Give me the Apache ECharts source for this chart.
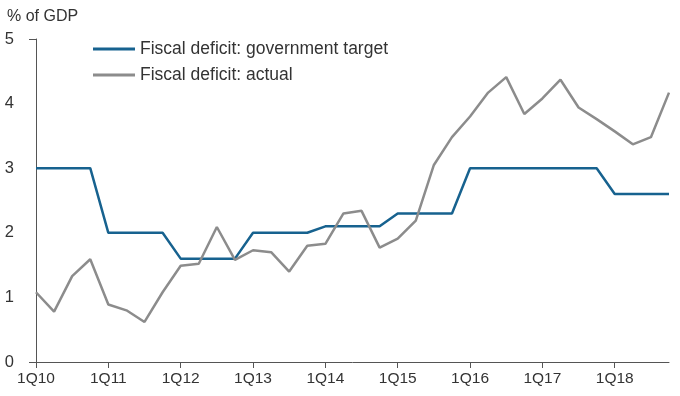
<!DOCTYPE html>
<html>
<head>
<meta charset="utf-8">
<style>
	html, body { margin: 0; padding: 0; background: #fff; }
	#chart { width: 680px; height: 396px; }
</style>
<script src="https://cdn.jsdelivr.net/npm/echarts@6/dist/echarts.min.js"></script>
</head>
<body>
<div id="chart"></div>
<script>
// quarters 1Q10 .. 4Q18
var quarters = [];
for (var yr = 10; yr <= 18; yr++) {
	for (var q = 1; q <= 4; q++) {
		quarters.push(q + 'Q' + yr);
	}
}

var targetDeficit = [
	3.0, 3.0, 3.0, 3.0,
	2.0, 2.0, 2.0, 2.0,
	1.6, 1.6, 1.6, 1.6,
	2.0, 2.0, 2.0, 2.0,
	2.1, 2.1, 2.1, 2.1,
	2.3, 2.3, 2.3, 2.3,
	3.0, 3.0, 3.0, 3.0,
	3.0, 3.0, 3.0, 3.0,
	2.6, 2.6, 2.6, 2.6
];

var actualDeficit = [
	1.08, 0.78, 1.33, 1.59,
	0.89, 0.80, 0.62, 1.08,
	1.49, 1.52, 2.09, 1.58,
	1.73, 1.70, 1.40, 1.80,
	1.83, 2.30, 2.34, 1.77,
	1.91, 2.19, 3.05, 3.48,
	3.80, 4.17, 4.41, 3.84,
	4.08, 4.37, 3.94, 3.76,
	3.57, 3.37, 3.48, 4.17
];

var yTicks = [0, 1, 2, 3, 4, 5];

var fontFamily = '"Liberation Sans", Arial, sans-serif';
var textColor = '#333';
var axisColor = '#555';
var blue = '#17628f';
var gray = '#8c8c8c';

var chart = echarts.init(document.getElementById('chart'));

chart.setOption({
	animation: false,
	textStyle: { fontFamily: fontFamily },
	title: {
		text: '% of GDP',
		left: 2,
		top: 4,
		textStyle: {
			fontSize: 16,
			fontWeight: 'normal',
			color: textColor,
			fontFamily: fontFamily
		}
	},
	legend: {
		orient: 'vertical',
		left: 88,
		top: 35,
		icon: 'rect',
		itemWidth: 42,
		itemHeight: 3,
		itemGap: 8,
		textStyle: {
			fontSize: 17.5,
			color: textColor,
			fontFamily: fontFamily
		},
		data: ['Fiscal deficit: government target', 'Fiscal deficit: actual']
	},
	grid: {
		left: 36,
		right: 11,
		top: 39,
		bottom: 34,
		containLabel: false
	},
	xAxis: {
		type: 'category',
		data: quarters,
		boundaryGap: false,
		axisLine: {
			lineStyle: { color: axisColor, width: 1 }
		},
		axisTick: {
			show: true,
			interval: 3,
			length: 6,
			lineStyle: { color: axisColor }
		},
		axisLabel: {
			interval: 3,
			fontSize: 15.5,
			color: textColor,
			margin: 9
		},
		splitLine: { show: false }
	},
	yAxis: {
		type: 'value',
		min: 0,
		max: 5,
		interval: 1,
		axisLine: {
			show: true,
			lineStyle: { color: axisColor, width: 1 }
		},
		axisTick: {
			show: true,
			customValues: [0, 5],
			length: 7,
			lineStyle: { color: axisColor }
		},
		axisLabel: {
			customValues: yTicks,
			fontSize: 16.5,
			color: textColor,
			margin: 22
		},
		splitLine: { show: false }
	},
	series: [
		{
			name: 'Fiscal deficit: government target',
			type: 'line',
			data: targetDeficit,
			symbol: 'none',
			lineStyle: { color: blue, width: 2.5 },
			itemStyle: { color: blue }
		},
		{
			name: 'Fiscal deficit: actual',
			type: 'line',
			data: actualDeficit,
			symbol: 'none',
			lineStyle: { color: gray, width: 2.5 },
			itemStyle: { color: gray }
		}
	]
});
</script>
</body>
</html>
